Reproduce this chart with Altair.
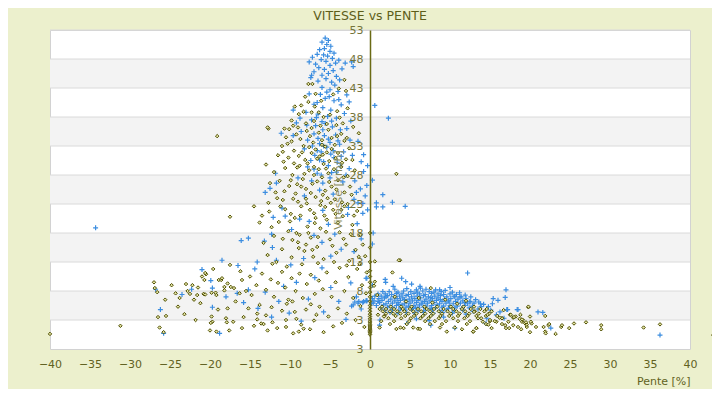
import altair as alt
import pandas as pd

# ---------------- data ----------------
olive_peak = [
(-7.7,43.7),(-7.2,43.7),(-3.2,44.4),(-8.1,41.5),(-7.7,40.6),(-6.9,39.8),(-8.9,38.5),(-8.3,38.9),(-6.4,38.8),(-5.8,38.0),
(-5.0,38.4),(-4.1,39.0),(-3.8,37.9),(-7.0,37.3),(-9.8,37.4),(-5.4,36.8),(-3.0,42.5),(-2.8,39.5),
(-12.7,36.0),(-10.7,36.0),(-10.1,35.9),(-19.1,34.7),(-12.8,36.2),
(-10.5,34.5),(-9.8,33.8),(-9.2,35.0),(-8.7,34.2),(-8.3,33.0),(-7.9,35.6),(-7.5,34.7),(-7.1,33.6),(-6.8,32.4),(-6.4,35.3),
(-6.0,34.0),(-5.6,32.9),(-5.2,35.8),(-4.8,34.4),(-4.4,33.2),(-4.0,31.8),(-3.6,35.1),(-3.2,33.9),(-9.5,32.2),(-8.9,31.3),
(-8.1,30.6),(-7.3,31.8),(-6.6,30.8),(-5.9,31.5),(-5.1,30.4),(-4.3,30.9),(-10.2,31.0),(-11.0,33.0),(-10.8,30.3),(-9.0,36.2),
(-6.2,36.5),(-3.0,30.7),(-2.6,32.6),(-7.6,32.8),(-6.0,33.2),(-5.4,31.9),
(-12.0,28.5),(-11.3,27.0),(-10.6,29.2),(-10.1,26.1),(-9.7,28.0),(-9.3,24.8),(-8.8,29.6),(-8.4,27.3),(-8.0,25.6),(-7.6,28.8),
(-7.2,26.5),(-6.8,24.2),(-6.4,29.0),(-6.0,27.6),(-5.6,25.3),(-5.2,28.3),(-4.8,26.0),(-4.4,23.8),(-4.0,27.1),(-3.6,29.4),
(-3.2,25.0),(-2.8,27.8),(-11.8,25.0),(-10.9,23.7),(-9.0,23.4),(-7.9,23.1),(-6.1,23.5),(-5.3,24.0),(-3.5,23.3),(-2.3,24.6),
(-8.6,26.0),(-7.0,28.0),(-5.8,29.9),(-4.5,29.0),(-9.5,30.0),(-12.5,26.6),(-13.0,29.8),
(-13.8,19.8),(-12.6,21.7),(-17.5,20.8),(-12.0,17.5),(-11.4,19.9),(-11.0,15.2),(-10.6,22.1),(-10.2,18.3),(-9.8,13.8),(-9.4,20.6),
(-9.0,16.4),(-8.6,22.6),(-8.2,14.9),(-7.8,19.1),(-7.4,17.2),(-7.0,21.4),(-6.6,15.6),(-6.2,18.8),(-5.8,13.5),(-5.4,20.3),
(-5.0,16.9),(-4.6,22.0),(-4.2,14.6),(-3.8,18.1),(-3.4,20.9),(-3.0,16.0),(-2.6,13.2),(-2.2,19.4),(-1.8,15.1),(-1.2,17.7),
(-0.6,14.0),(-12.8,14.2),(-11.7,13.0),(-9.2,18.0),(-8.8,17.7),(-7.1,13.9),(-5.6,22.5),(-4.0,19.8),(-1.6,21.8),(-6.9,19.7),
(-8.0,16.0),(-10.9,17.0),(-13.3,16.3),(-3.2,22.6),(-9.9,21.3),
(-9.6,36.5),(-8.0,36.9),(-7.3,36.1),(-4.2,36.6),(-3.4,36.9),(-10.9,32.0),(-10.3,33.4),(-9.1,29.3),(-8.5,31.9),(-7.8,30.0),
(-7.0,29.4),(-6.3,31.2),(-5.5,29.1),(-4.8,32.5),(-4.1,34.7),(-3.5,30.1),(-2.9,34.4),(-2.2,30.6),(-11.5,31.4),(-9.9,27.1),
(-9.1,26.4),(-8.2,28.2),(-7.4,24.9),(-6.6,26.9),(-5.9,24.6),(-5.1,26.8),(-4.2,25.5),(-3.3,27.6),(-2.5,26.0),(-1.9,28.8),
(-10.7,25.2),(-11.2,22.6),(-10.0,20.0),(-9.6,23.9),(-8.7,21.0),(-8.0,23.9),(-7.5,22.0),(-6.8,20.6),(-6.2,22.8),(-5.7,21.0),
(-4.9,23.2),(-4.3,21.3),(-3.6,22.0),(-2.8,23.0),(-2.0,21.0),(-9.7,16.8),(-8.9,15.4),(-7.7,18.0),(-7.2,15.1),(-6.5,17.3),
(-5.5,18.2),(-4.7,15.8),(-3.3,17.0),(-2.4,17.8),(-1.4,13.9),(-0.9,16.0),(-12.3,19.0),(-11.6,24.0),(-12.7,23.2),(-13.5,21.0),
(-14.5,22.6),(-12.2,12.7),(-10.4,12.2),(-8.5,12.6),(-6.5,12.8),(-4.5,13.0),(-2.9,12.4),(-1.3,12.7),(-0.4,11.2),(-7.3,38.8),
(-6.1,40.8),(-4.6,41.9),(-3.9,42.9),(-8.6,40.0),(-9.4,39.8),(-2.1,36.3),(-1.4,35.2),(-6.8,42.0),(3.3,28.2),
]

olive_low = [
(-20.5,10.9),(-20.7,9.9),(-18.9,9.9),(-18.6,9.9),(-22.8,8.0),(-22.5,7.5),(-21.6,7.3),(-20.8,7.5),(-20.6,7.4),(-21.2,5.9),
(-19.8,7.7),(-19.3,7.7),(-19.2,7.3),(-18.2,8.7),(-18.2,8.1),(-17.4,8.7),(-26.5,3.5),(-25.5,3.7),(-26.3,1.7),
(-19.8,3.6),(-19.7,2.7),(-19.9,2.5),(-18.0,3.3),(-17.9,2.6),(-19.2,1.0),(-17.6,1.2),(-17.1,2.7),(-15.8,3.5),(-14.1,4.1),
(-14.1,3.1),(-13.6,2.4),(-13.3,2.3),(-12.8,1.2),(-12.2,2.6),(-10.5,3.0),(-10.5,1.8),(-9.6,0.7),(-8.9,1.0),(-8.6,2.2),
(-8.3,1.5),(-9.4,4.4),(-9.7,6.2),(-7.4,5.7),(-6.7,3.9),
(-18.5,10.2),(-17.8,9.3),(-17.0,8.5),(-16.3,7.6),(-16.0,9.9),(-15.5,8.0),(-15.0,10.5),(-14.8,7.3),(-14.2,9.0),(-13.5,11.0),
(-13.0,8.2),(-12.4,10.0),(-12.0,7.0),(-11.5,9.4),(-11.0,11.3),(-10.6,8.6),(-10.2,6.5),(-9.8,10.2),(-9.3,8.0),(-8.8,11.0),
(-8.4,6.8),(-7.9,9.2),(-7.4,10.8),(-6.9,7.5),(-6.4,9.8),(-5.9,8.3),(-5.4,11.2),(-4.8,7.0),(-4.3,9.5),(-3.8,12.0),
(-3.2,8.0),(-2.7,10.4),(-2.1,6.8),(-1.6,11.8),(-1.0,9.0),(-0.5,7.6),
(-15.2,5.0),(-14.5,2.0),(-13.8,5.6),(-13.0,3.8),(-12.3,5.2),(-11.6,1.6),(-11.0,4.6),(-10.4,5.8),(-9.2,3.2),(-8.0,4.8),
(-7.5,1.4),(-7.0,2.9),(-6.3,5.3),(-5.8,0.9),(-5.2,3.6),(-4.6,1.9),(-4.0,5.0),(-3.5,2.5),(-2.9,4.1),(-2.3,0.6),
(-1.8,3.0),(-1.2,5.4),(-0.7,1.8),(-24.0,5.3),(-23.2,4.0),(-22.0,6.5),(-21.8,3.0),(-23.8,6.8),(-25.6,6.5),(-26.6,7.8),
(-27.0,9.5),(-24.8,9.0),(-23.0,9.2),(-21.0,10.5),(-16.8,6.2),(-17.8,5.0),(-16.0,1.6),(-20.0,1.2),(-19.0,4.8),(-31.2,2.0),
(-40.0,0.6),(-25.8,0.9),(-26.9,8.5),(-20.6,11.1),(-19.6,11.8),(-17.5,12.5),(-16.2,11.4),(-22.2,9.0),(-21.5,8.6),(-24.3,7.6),
]

olive_zero = [
(0,0.5),(0,0.8),(0,1.0),(0,1.2),(0,1.4),(0,1.6),(0,1.8),(0,2.0),(0,2.2),(0,2.5),(0,2.8),(0,3.2),(0,3.6),(0,4.0),
(0,4.5),(0,5.0),(0,5.5),(0,6.2),(0,7.0),(0,7.8),(0,8.6),(0,9.5),(0,10.5),(0,11.5),(0,13.0),(0,15.5),(0,18.0),
]

olive_cluster = [
(1.5,5.3),(2.6,5.3),(3.9,5.3),(5.2,5.3),(6.8,5.3),(8.4,5.3),(10.1,5.3),(11.7,5.3),(13.0,5.3),
(1.2,4.9),(2.0,4.9),(3.0,4.9),(4.1,4.9),(5.0,4.9),(6.0,4.9),(7.1,4.9),(8.0,4.9),(9.2,4.9),(10.4,4.9),(11.5,4.9),(12.6,4.9),(13.8,4.9),(14.6,4.9),
(1.6,4.5),(2.5,4.5),(3.4,4.5),(4.3,4.5),(5.4,4.5),(6.4,4.5),(7.5,4.5),(8.6,4.5),(9.7,4.5),(10.8,4.5),(11.9,4.5),(13.1,4.5),(14.3,4.5),(15.2,4.5),
(2.0,4.1),(2.9,4.1),(3.8,4.1),(4.8,4.1),(5.8,4.1),(6.9,4.1),(7.9,4.1),(9.0,4.1),(10.1,4.1),(11.2,4.1),(12.4,4.1),(13.6,4.1),(14.9,4.1),
(1.8,3.7),(3.2,3.7),(4.4,3.7),(5.5,3.7),(6.6,3.7),(7.6,3.7),(8.8,3.7),(9.9,3.7),(11.0,3.7),(12.2,3.7),(13.3,3.7),(14.5,3.7),(15.9,3.7),
(2.3,3.3),(3.9,3.3),(5.1,3.3),(6.3,3.3),(7.3,3.3),(8.6,3.3),(10.4,3.3),(11.8,3.3),(13.9,3.3),(16.5,3.3),
(1.4,2.8),(3.0,2.8),(4.9,2.8),(6.9,2.8),(8.1,2.8),(9.5,2.8),(11.0,2.8),(12.5,2.8),(15.0,2.8),
(2.5,2.3),(4.6,2.3),(7.5,2.3),(9.0,2.3),(12.1,2.3),(14.5,2.3),
(1.2,1.7),(3.8,1.7),(5.4,1.7),(6.0,1.5),(8.75,1.7),(10.6,1.7),(13.3,1.6),
(3.3,1.45),(6.25,1.45),(9.6,1.0),(11.5,1.4),(12.9,1.0),(4.2,1.6),(1.75,3.6),(1.0,3.9),
(0.6,13.1),(3.75,13.3),(2.8,11.2),(7.6,8.5),(0.9,7.3),(0.5,8.9),(3.6,13.3),(0.6,9.6),
(4.5,6.2),(7.8,6.0),(10.9,5.8),(3.1,7.0),(6.1,6.8),(9.4,6.5),(12.0,6.3),
]

olive_tail = [
(14.7,3.9),(15.0,3.0),(15.8,2.7),(16.5,3.3),(16.9,2.1),(17.3,2.7),(17.9,2.1),(18.5,1.8),(19.0,2.7),(19.4,2.4),
(19.6,1.8),(20.0,3.6),(20.2,2.4),(20.75,1.8),(21.7,1.8),(21.9,1.0),(22.3,2.1),(19.8,5.2),(16.7,4.7),(13.3,1.6),
(12.9,1.0),(19.8,5.3),(20.1,2.7),(20.0,0.9),(21.9,3.7),(21.96,0.7),(22.4,2.3),(23.2,0.6),(23.9,1.8),(24.0,2.1),
(24.9,1.6),(25.5,2.4),(27.0,2.6),(28.9,2.1),(28.9,1.4),(34.2,1.7),(36.25,2.25),(42.9,0.4),
(17.5,3.9),(17.9,3.4),(18.2,3.6),(18.7,3.2),(17.0,1.6),(18.9,1.4),(19.6,2.2),(19.1,3.0),
(13.0,4.4),(13.5,3.3),(14.1,2.7),(14.8,2.2),(15.2,1.6),(15.6,2.8),(16.2,3.4),(16.5,2.3),(17.6,3.9),(18.0,3.5),
(17.4,1.6),(19.0,3.1),(18.8,3.9),(19.5,2.6),
]

blue_peak = [
(-5.6,51.6),(-5.2,51.2),(-6.0,50.9),(-5.4,50.5),(-4.9,50.2),(-5.7,49.8),(-6.3,49.6),(-5.0,49.3),(-4.5,49.0),(-6.6,48.8),
(-5.8,48.7),(-5.3,48.5),(-7.2,48.3),(-4.7,48.1),(-6.1,47.9),(-5.5,47.6),(-3.9,47.8),(-7.6,47.5),(-4.3,47.3),(-6.8,47.1),
(-5.0,46.9),(-2.3,47.5),(-6.4,46.5),(-5.7,46.2),(-4.6,46.0),(-3.5,46.3),(-7.0,45.8),(-5.2,45.5),(-6.0,45.2),(-4.2,45.0),
(-7.4,44.8),(-5.5,44.6),(-3.8,44.4),(-6.5,44.2),(-4.8,44.0),(-3.1,47.3),(-2.1,46.7),(-7.3,45.2),
(-5.0,42.7),(-4.0,42.4),(-2.9,41.8),(-2.6,40.6),(-9.6,39.2),(-6.2,41.9),(-5.6,41.2),(-4.5,40.8),(-7.0,40.2),(-3.6,40.1),
(-5.9,39.6),(-4.9,39.2),(-8.0,38.8),(-6.5,38.5),(-3.2,38.6),(-5.3,38.1),(-4.2,37.8),(-8.75,37.8),(-7.3,37.5),(-2.4,37.3),
(-6.0,37.2),(-9.2,37.0),
(-11.1,35.2),(-8.6,35.5),(-7.8,34.0),(-7.0,35.1),(-6.3,33.4),(-5.7,34.8),(-5.0,33.6),(-4.6,32.2),(-6.6,32.2),(-5.4,32.8),
(-6.9,31.4),(-6.1,32.0),(-4.9,31.6),(-3.8,33.3),(-3.3,32.0),(-2.5,34.0),(-1.5,33.8),(-0.8,31.5),(-8.2,32.5),(-7.4,30.5),
(-5.8,30.3),(-4.1,30.2),(-9.6,34.8),(-2.9,36.0),(-4.7,36.3),(-6.8,36.5),(-3.7,35.8),(-5.9,35.8),
(-13.1,25.0),(-11.8,28.3),(-11.7,26.6),(-12.5,25.7),(-9.0,27.5),(-7.8,29.4),(-7.3,27.0),(-6.6,28.3),(-5.9,26.6),(-5.0,27.5),
(-4.2,28.5),(-3.4,26.8),(-2.6,29.1),(-1.9,27.0),(-1.2,25.6),(-0.8,28.6),(-0.4,26.2),(-2.0,23.8),(-1.5,23.2),(-0.6,24.4),
(0.8,23.2),(1.6,24.6),(-8.2,24.4),(-6.3,25.4),(-4.6,24.7),(-3.0,28.0),
(-16.1,16.7),(-15.2,17.1),(-13.2,16.6),(-14.1,13.0),(-12.1,20.7),(-12.3,17.8),(-12.2,15.5),(-11.7,13.3),(-10.6,20.9),(-11.0,22.3),
(-16.5,12.4),(-18.5,13.3),(-7.6,20.0),(-6.0,16.4),(-4.4,17.8),(-2.8,21.2),(-1.6,19.6),(-0.9,21.4),(-0.3,22.0),(0.8,22.5),
(-2.0,14.8),(-4.9,14.0),(-8.3,13.6),(-3.6,15.2),(-1.1,17.0),(0.3,16.1),(-5.2,19.5),
(-6.0,43.1),(-4.4,43.5),(-5.4,42.3),(-7.6,42.0),(-6.6,40.5),(-5.1,41.5),(-3.9,41.0),(-4.8,37.3),(-6.7,37.9),(-5.6,36.9),
(-7.9,36.6),(-4.3,34.9),(-6.5,34.3),(-5.2,34.2),(-4.0,33.9),(-7.2,33.0),(-5.8,33.0),(-4.5,31.0),(-6.3,30.6),(-5.2,29.6),
(-3.7,29.5),(-7.0,29.0),(-4.8,28.4),(-6.1,28.0),(-3.6,31.2),(-2.2,31.4),(-1.1,30.3),(-0.3,29.6),(-1.7,25.0),(0.3,27.1),
(-0.9,23.1),(-2.7,22.4),(-5.9,21.9),(-8.8,20.4),(-9.8,18.6),(-7.0,17.6),
(0.6,40.0),(2.3,37.8),(1.6,22.5),(2.8,23.3),(4.4,22.6),(0.4,18.0),(-34.3,18.9),
]

blue_low = [
(-26.8,8.3),(-26.2,4.8),(-25.8,0.7),(-23.5,7.4),(-22.3,8.3),(-19.9,9.8),(-19.7,8.5),(-19.7,5.2),(-18.8,0.7),
(-18.0,7.0),(-16.6,7.6),(-15.8,6.0),(-15.2,8.2),(-14.0,5.0),(-13.1,7.8),(-12.3,3.5),(-11.4,6.2),(-10.8,8.8),(-10.1,4.2),
(-9.2,9.5),(-8.6,2.8),(-7.7,6.6),(-6.9,10.3),(-5.8,4.4),(-4.9,8.6),(-3.9,6.2),(-3.0,3.1),(-2.4,9.4),(-1.7,7.0),
(-1.1,4.9),(-0.5,10.2),(-14.4,11.8),(-9.9,12.5),(-6.0,12.0),(-21.0,11.7),(-0.4,10.2),
(-1.9,6.1),(-1.4,6.2),(-0.9,6.0),(-0.5,6.3),(-2.3,5.4),(-2.1,5.6),(-0.8,6.2),(-0.4,6.3),
]

blue_cluster = [
(3.1,8.3),(4.6,8.4),(5.8,8.2),(6.3,8.5),(7.0,8.3),(8.2,8.2),(9.4,8.1),
(1.6,7.9),(2.4,7.9),(3.5,7.8),(4.2,8.0),(5.1,7.9),(5.9,7.8),(6.6,8.0),(7.4,7.9),(8.0,7.8),(8.9,7.9),(10.3,7.8),(11.2,7.7),
(1.0,7.5),(1.9,7.5),(2.7,7.4),(3.3,7.6),(4.0,7.5),(4.8,7.4),(5.5,7.6),(6.2,7.5),(6.9,7.4),(7.7,7.6),(8.5,7.5),(9.2,7.4),(10.0,7.5),(10.8,7.4),(11.9,7.3),
(0.6,7.1),(1.4,7.1),(2.2,7.2),(3.0,7.0),(3.7,7.1),(4.5,7.2),(5.2,7.0),(5.9,7.1),(6.7,7.2),(7.3,7.0),(8.1,7.1),(8.8,7.2),(9.6,7.0),(10.5,7.1),(11.4,7.0),(12.6,7.0),
(0.3,6.7),(1.1,6.7),(1.8,6.8),(2.6,6.6),(3.4,6.7),(4.1,6.8),(4.9,6.6),(5.6,6.7),(6.3,6.8),(7.0,6.6),(7.8,6.7),(8.5,6.8),(9.3,6.6),(10.1,6.7),(11.0,6.6),(12.0,6.7),(13.2,6.5),
(-0.4,6.3),(0.5,6.3),(1.5,6.4),(2.3,6.2),(3.1,6.3),(3.8,6.4),(4.6,6.2),(5.3,6.3),(6.0,6.4),(6.8,6.2),(7.5,6.3),(8.3,6.4),(9.0,6.2),(9.8,6.3),(10.7,6.2),(11.6,6.3),(12.5,6.2),(13.6,6.1),
(-1.5,5.9),(0.2,5.9),(1.2,6.0),(2.0,5.8),(2.8,5.9),(3.5,6.0),(4.3,5.8),(5.0,5.9),(5.8,6.0),(6.5,5.8),(7.2,5.9),(8.0,6.0),(8.7,5.8),(9.5,5.9),(10.4,5.8),(11.3,5.9),(12.2,5.8),(13.0,5.9),(14.2,5.7),
(0.8,5.5),(1.7,5.6),(2.5,5.4),(3.3,5.5),(4.0,5.6),(4.8,5.4),(5.5,5.5),(6.2,5.6),(7.0,5.4),(7.7,5.5),(8.4,5.6),(9.2,5.4),(10.0,5.5),(10.9,5.4),(11.8,5.5),(12.8,5.4),(13.9,5.3),
(1.4,5.1),(2.2,5.2),(3.0,5.0),(3.8,5.1),(4.5,5.2),(5.3,5.0),(6.0,5.1),(6.7,5.2),(7.5,5.0),(8.2,5.1),(9.0,5.2),(9.8,5.0),(10.6,5.1),(11.5,5.0),(12.4,5.1),(13.5,4.9),
(1.9,4.7),(2.8,4.8),(3.6,4.6),(4.4,4.7),(5.2,4.8),(6.0,4.6),(6.9,4.7),(7.8,4.8),(8.7,4.6),(9.6,4.7),(10.5,4.6),(11.6,4.7),(12.9,4.5),
(2.5,4.3),(3.5,4.2),(4.5,4.3),(5.6,4.2),(6.7,4.3),(7.9,4.2),(9.1,4.3),(10.3,4.2),
(2.0,7.0),(4.3,6.5),(6.5,6.1),(8.8,6.5),(3.6,5.7),(5.7,5.2),(7.6,6.9),(9.9,6.1),(1.0,6.2),(11.9,6.0),
(1.9,10.0),(1.96,9.5),(3.96,10.2),(4.46,9.6),(5.2,9.2),(8.7,8.2),(12.2,11.1),(0.3,9.0),(2.9,8.8),(6.25,8.8),(10.0,8.6),
(12.5,6.1),(13.8,5.8),(15.4,6.7),(16.0,6.4),(17.0,8.2),(16.9,6.9),(15.3,5.8),(10.6,7.0),(11.25,7.0),
(1.25,3.0),(1.2,2.1),(10.6,1.6),(14.6,3.3),(7.4,2.9),(7.6,2.1),(4.6,2.4),(0.4,5.9),(5.8,3.2),(9.2,3.5),(12.0,4.0),
]

blue_tail = [
(16.25,4.4),(17.2,4.8),(18.4,4.8),(21.0,4.4),(21.6,4.3),(22.6,1.6),(18.5,4.8),(17.1,4.8),(15.8,3.9),(14.5,2.4),
(16.75,3.3),(36.25,0.4),(14.8,5.3),(15.1,4.7),
]

grid_values = [3, 8, 13, 18, 23, 28, 33, 38, 43, 48, 53]
band_low = [43, 33, 23, 13, 3]
band_high = [48, 38, 28, 18, 8]
x_ticks = list(range(-40, 41, 5))
y_ticks = [-2, 3, 8, 13, 18, 23, 28, 33, 38, 43, 48, 53]

# ---------------- tables ----------------
def frame(pts, series):
    return pd.DataFrame({"pente": [p[0] for p in pts], "vitesse": [p[1] for p in pts], "serie": series})

olive_df = pd.concat([frame(olive_peak, "A"), frame(olive_low, "A"), frame(olive_zero, "A"),
                      frame(olive_cluster, "A"), frame(olive_tail, "A")], ignore_index=True)
blue_df = pd.concat([frame(blue_peak, "B"), frame(blue_low, "B"), frame(blue_cluster, "B"),
                     frame(blue_tail, "B")], ignore_index=True)
bands_df = pd.DataFrame({"lo": band_low, "hi": band_high})
grid_df = pd.DataFrame({"g": grid_values})

W, H = 640, 319
TXT = "#62621e"
xscale = alt.Scale(domain=[-40, 40], nice=False, zero=False)
yscale = alt.Scale(domain=[-2, 53], nice=False, zero=False)

xaxis = alt.Axis(values=x_ticks, grid=False, ticks=False, domain=False, labelFlush=False,
                 labelColor=TXT, labelFont="DejaVu Sans", labelFontSize=11, labelPadding=9,
                 title="Pente [%]", titleAnchor="end", titleAlign="right", titleFont="DejaVu Sans",
                 titleFontSize=11, titleFontWeight="normal", titleColor=TXT, titlePadding=6)
yaxis = alt.Axis(values=y_ticks, labelExpr="datum.value < 0 ? '3' : datum.label",
                 grid=False, ticks=False, offset=-320, domainColor="#6a6a14", domainWidth=1.5,
                 labelColor="#74743a", labelFont="DejaVu Sans", labelFontSize=11, labelPadding=7,
                 labelFlush=False,
                 title="Vitesse [km/h]", titleFont="DejaVu Sans", titleFontSize=11,
                 titleFontWeight="normal", titleColor="#8a8a5a", titlePadding=6, zindex=1)

bands = alt.Chart(bands_df).mark_rect(color="#f3f3f3").encode(
    y=alt.Y("lo:Q", scale=yscale, axis=yaxis), y2="hi:Q",
    x=alt.value(0), x2=alt.value(W))

grid = alt.Chart(grid_df).mark_rule(color="#dadada", strokeWidth=1).encode(
    y=alt.Y("g:Q", scale=yscale, axis=yaxis), x=alt.value(0), x2=alt.value(W))

blue = alt.Chart(blue_df).mark_point(
    shape="M-1,0L1,0M0,-1L0,1", filled=False, stroke="#3b8de0", strokeWidth=1.2, size=25, opacity=1
).encode(x=alt.X("pente:Q", scale=xscale, axis=xaxis),
         y=alt.Y("vitesse:Q", scale=yscale, axis=yaxis))

olive = alt.Chart(olive_df).mark_point(
    shape="diamond", filled=True, fill="#e4e4a4", stroke="#4e4e00", strokeWidth=1, size=12, opacity=1
).encode(x=alt.X("pente:Q", scale=xscale, axis=xaxis),
         y=alt.Y("vitesse:Q", scale=yscale, axis=yaxis))

chart = alt.layer(bands, grid, blue, olive).properties(
    width=W, height=H,
    autosize=alt.AutoSizeParams(type="none"),
    padding={"left": 42, "top": 22, "right": 22, "bottom": 40},
    background="#ecf0cd",
    title=alt.TitleParams("VITESSE vs PENTE", font="DejaVu Sans", fontSize=12.5, fontWeight="normal",
                          color="#5e5e1a", offset=2, anchor="middle"),
).configure_view(stroke="#d2d2d2", strokeWidth=1, fill="white")

chart.save("out.html", embed_options={"renderer": "svg", "actions": False})
